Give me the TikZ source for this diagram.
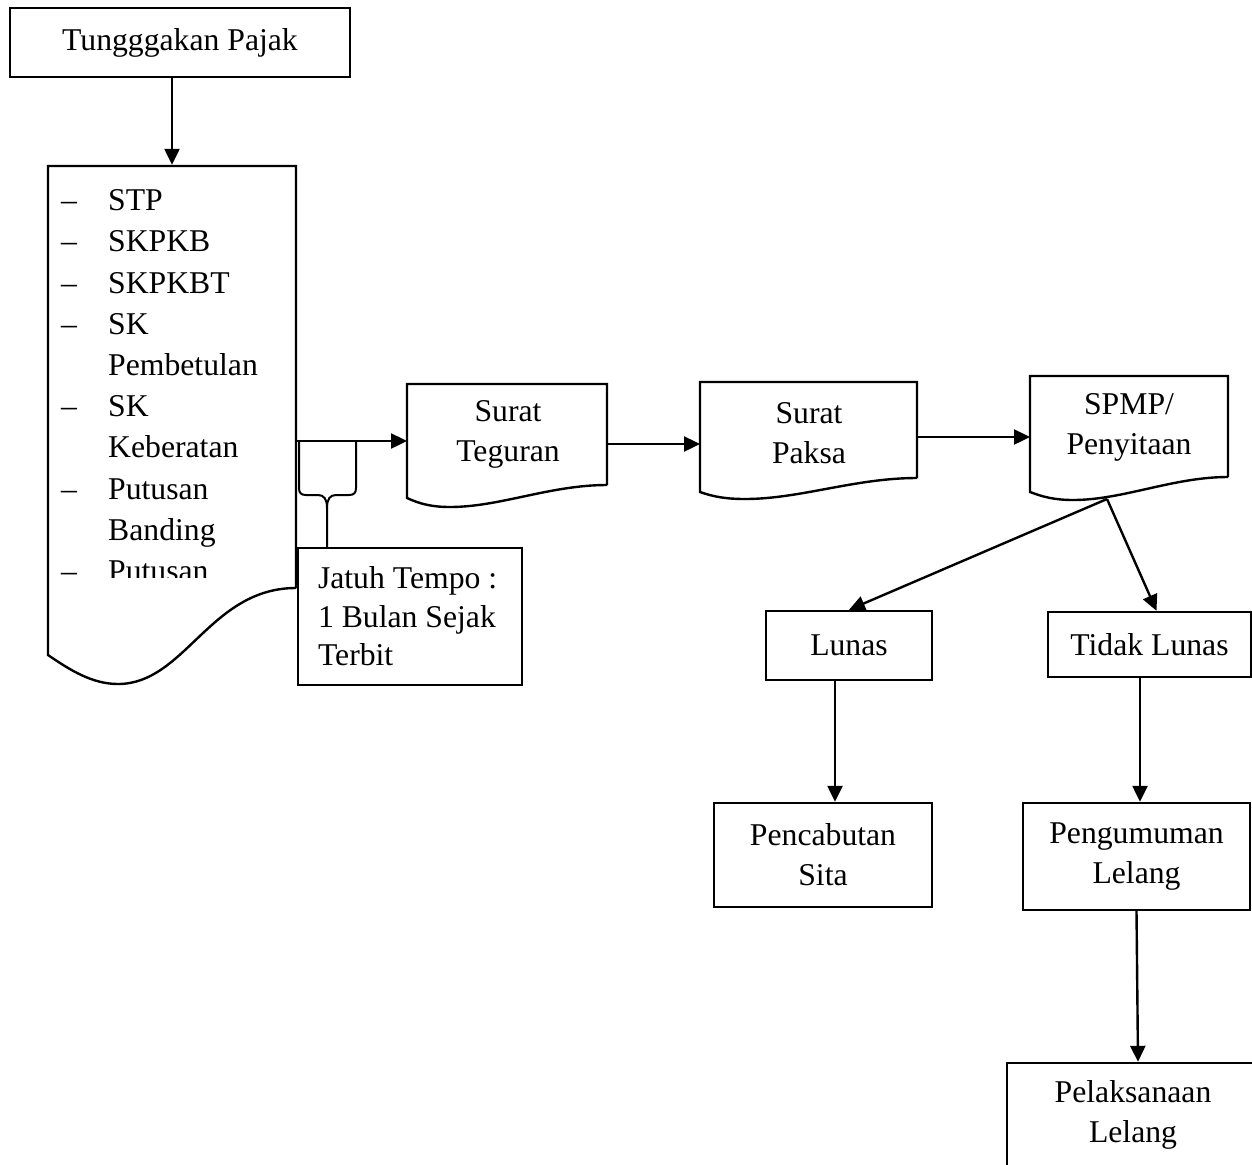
\documentclass[tikz,border=0pt]{standalone}
\usepackage{fontspec}
\setmainfont{Liberation Serif}
\usetikzlibrary{arrows.meta}
\newcommand\fsz{\fontsize{31.7}{40}\selectfont}
\begin{document}
\begin{tikzpicture}[x=1pt,y=-1pt,line width=2.4pt,
  box/.style={draw, line width=2.4pt, inner sep=0pt, align=center, font=\fsz, fill=white},
  txt/.style={inner sep=0pt, align=center, font=\fsz},
  arr/.style={line width=2.4pt, -{Triangle[length=16pt,width=15pt]}},
  outl/.style={line width=2.4pt, line join=miter}]
\useasboundingbox (0,0) rectangle (1252,1164);
\clip (0,0) rectangle (1252,1164);

% top box
\node[box, minimum width=340pt, minimum height=69pt] (tp) at (180,42.5) {Tungggakan Pajak};

% big document
\node[txt, minimum width=248pt, minimum height=422pt] (dk) at (172,377) {};
\draw[outl] (296,588) -- (296,166) -- (48,166) -- (48,655)
  .. controls (70,670) and (92,684) .. (118,684)
  .. controls (185,684) and (210,588) .. (296,588);
\begin{scope}
\clip (48,166) rectangle (296,577);
\node[txt, anchor=north west, align=left, font=\fontsize{31.7}{41.2}\selectfont] (lst) at (60,188.5)
 {\makebox[47pt][l]{–}STP\\
  \makebox[47pt][l]{–}SKPKB\\
  \makebox[47pt][l]{–}SKPKBT\\
  \makebox[47pt][l]{–}SK\\
  \hspace*{47pt}Pembetulan\\
  \makebox[47pt][l]{–}SK\\
  \hspace*{47pt}Keberatan\\
  \makebox[47pt][l]{–}Putusan\\
  \hspace*{47pt}Banding\\
  \makebox[47pt][l]{–}Putusan};
\end{scope}

% callout
\draw[line width=2pt] (299,441) -- (299,488) .. controls (299,493) and (301,495) .. (306,495)
  -- (318,495) .. controls (324,495) and (327,499) .. (327,508) -- (327,548);
\draw[line width=2pt] (327,508) .. controls (327,499) and (330,495) .. (336,495)
  -- (349,495) .. controls (354,495) and (356,493) .. (356,488) -- (356,441);
\node[box, minimum width=224pt, minimum height=137pt, text width=184pt, align=flush left,
  font=\fontsize{31.7}{38.5}\selectfont] (ju) at (410,616.5)
  {\mbox{Jatuh Tempo :}\\\mbox{1 Bulan Sejak}\\Terbit};

% Surat Teguran
\draw[outl] (607,485) -- (607,384) -- (407,384) -- (407,498)
  .. controls (420,504) and (432,507) .. (450,507)
  .. controls (500,507) and (550,485) .. (607,485);
\node[txt] (st) at (508,434) {Surat\\Teguran};
\coordinate (st-in) at (407,441);
\coordinate (st-out) at (607,444);

% Surat Paksa
\draw[outl] (917,478) -- (917,382) -- (700,382) -- (700,492)
  .. controls (714,497) and (727,499) .. (745,499)
  .. controls (800,499) and (855,478) .. (917,478);
\node[txt] (sp) at (809,433) {Surat\\Paksa};
\coordinate (sp-in) at (700,444);
\coordinate (sp-out) at (917,437);

% SPMP
\draw[outl] (1228,477) -- (1228,376) -- (1030,376) -- (1030,492)
  .. controls (1043,497) and (1055,500) .. (1073,500)
  .. controls (1123,500) and (1173,477) .. (1228,477);
\node[txt] (sm) at (1129,427.5) {SPMP/\\Penyitaan};
\coordinate (sm-in) at (1030,437);
\coordinate (sm-out) at (1107,499);

% boxes
\node[box, minimum width=166pt, minimum height=69pt] (lu) at (849,645.5) {Lunas};
\node[box, minimum width=203pt, minimum height=65pt] (tl) at (1149.5,644.5) {Tidak Lunas};
\node[box, minimum width=218pt, minimum height=104pt] (pc) at (823,855) {Pencabutan\\Sita};
\node[box, minimum width=227pt, minimum height=107pt] (pg) at (1136.5,856.5) {Pengumuman\\Lelang};
\node[box, minimum width=252pt, minimum height=104pt] (pl) at (1133,1115) {Pelaksanaan\\Lelang};

% connectors
\draw[arr] (dk.north |- tp.south) -- (dk.north);
\draw[arr] (dk.east |- st-in) -- (st-in);
\draw[arr] (st-out) -- (sp-in);
\draw[arr] (sp-out) -- (sm-in);
\draw[arr] (sm-out) -- (lu.north);
\draw[arr] (sm-out) -- ([xshift=7pt]tl.north);
\draw[arr] ([xshift=-14pt]lu.south) -- ([xshift=-14pt]lu.south |- pc.north);
\draw[arr] ([xshift=-9.5pt]tl.south) -- ([xshift=-9.5pt]tl.south |- pg.north);
\draw[arr] (pg.south) -- ([xshift=5pt]pl.north);
\end{tikzpicture}
\end{document}
